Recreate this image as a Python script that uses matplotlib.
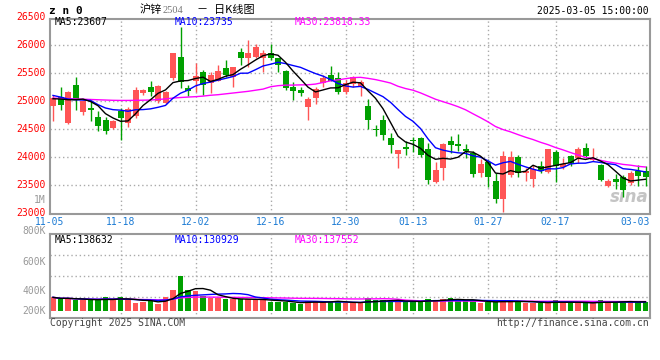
#!/usr/bin/env python3
# Sina daily K-line chart for SHFE zinc 2504 (沪锌2504)

import numpy as np
import pandas as pd
import matplotlib
matplotlib.use('Agg')
import matplotlib.pyplot as plt

W, H = 660, 360
MONO = 'DejaVu Sans Mono'
CJK = ['Noto Sans CJK SC', 'DejaVu Sans']
RED = '#ff5555'
GREEN = '#00a000'
GRID = '#aaaaaa'
FRAME = '#999999'

# trading-day index of each date label
tick_idx = [0, 9, 19, 29, 39, 48, 58, 67, 77]
tick_labels = ['11-05', '11-18', '12-02', '12-16', '12-30', '01-13', '01-27', '02-17', '03-03']

opens = [24910, 25078, 24617, 25296, 24805, 24883, 24716, 24675, 24528, 24823,
         24617, 24734, 25149, 25266, 25000, 24972, 25415, 25798, 25248, 25373,
         25532, 25337, 25367, 25603, 25443, 25887, 25780, 25798, 25769, 25858,
         25769, 25544, 25266, 25207, 24894, 25060, 25337, 25473, 25415, 25160,
         25314, 25278, 24923, 24504, 24675, 24351, 24061, 24192, 24303, 24351,
         24156, 23564, 23807, 24286, 24244, 24144, 24085, 23718, 23918, 23582,
         23257, 23683, 24014, 23725, 23612, 23843, 23736, 24096, 23831, 24025,
         23996, 24173, 23955, 23860, 23488, 23612, 23660, 23553, 23754, 23754]
highs = [25110, 25266, 25190, 25443, 25020, 25030, 24823, 24730, 24670, 24883,
         24900, 25260, 25230, 25367, 25300, 25190, 25870, 26320, 25300, 25681,
         25560, 25530, 25651, 25739, 25620, 25946, 26094, 26030, 25917, 26018,
         25780, 25560, 25355, 25260, 25080, 25250, 25470, 25633, 25532, 25380,
         25460, 25380, 25042, 24587, 24764, 24440, 24130, 24291, 24369, 24360,
         24263, 23918, 24263, 24380, 24427, 24232, 24110, 23966, 23960, 23730,
         24114, 24114, 24040, 23813, 23872, 23931, 24160, 24132, 23996, 24040,
         24180, 24263, 24173, 23880, 23610, 23700, 23680, 23760, 23860, 23840]
lows = [24650, 24853, 24590, 24853, 24750, 24645, 24468, 24420, 24500, 24320,
        24540, 24700, 25120, 25101, 24970, 24950, 25390, 25238, 25100, 25177,
        25119, 25150, 25360, 25440, 25255, 25651, 25620, 25780, 25532, 25740,
        25532, 25200, 25030, 25090, 24675, 24960, 25250, 25360, 25130, 25140,
        25250, 25089, 24516, 24380, 24309, 24073, 23807, 24037, 24096, 24010,
        23523, 23540, 23600, 24085, 24114, 23997, 23660, 23660, 23475, 23186,
        23021, 23660, 23660, 23582, 23465, 23725, 23720, 23564, 23802, 23843,
        23908, 23996, 23930, 23580, 23470, 23435, 23287, 23500, 23488, 23488]
closes = [25060, 24942, 25177, 25030, 25000, 24841, 24569, 24468, 24645, 24706,
          24871, 25207, 25207, 25160, 25278, 25177, 25858, 25355, 25195, 25461,
          25296, 25473, 25544, 25473, 25610, 25769, 25869, 25975, 25858, 25769,
          25651, 25238, 25195, 25149, 25042, 25225, 25415, 25373, 25160, 25326,
          25443, 25355, 24663, 24492, 24398, 24220, 24126, 24144, 24286, 24037,
          23600, 23771, 24232, 24215, 24202, 24108, 23713, 23878, 23653, 23257,
          24025, 24014, 23718, 23754, 23795, 23754, 24144, 23843, 23890, 23908,
          24156, 24025, 23996, 23600, 23582, 23570, 23423, 23725, 23677, 23660]
volume_k = [205, 175, 190, 165, 165, 165, 165, 205, 165, 205,
            165, 125, 140, 150, 105, 215, 315, 530, 315, 300,
            225, 190, 190, 175, 175, 175, 175, 175, 165, 130,
            140, 140, 115, 100, 155, 155, 130, 140, 150, 115,
            115, 115, 190, 165, 165, 140, 140, 140, 150, 140,
            180, 150, 180, 195, 165, 150, 150, 125, 130, 130,
            165, 150, 140, 125, 125, 115, 125, 165, 125, 125,
            115, 115, 135, 160, 125, 125, 140, 155, 135, 135]

# moving-average values at the left edge (history before 11-05 not shown)
ma5_head = [25048, 25043, 25030, 25030]
ma10_head = [25107, 25078, 25043, 25030, 25024, 25018, 24942, 24883, 24853]
ma30_head = [25060, 25055, 25050, 25045, 25040, 25035, 25030, 25025, 25020, 25018,
             25018, 25020, 25022, 25025, 25035, 25045, 25060, 25070, 25078, 25085,
             25095, 25110, 25120, 25135, 25150, 25165, 25180, 25200, 25220]

price_legend = [('MA5:23607', 'black'), ('MA10:23735', '#0000ff'), ('MA30:23818.33', '#ff00ff')]
vol_legend = [('MA5:138632', 'black'), ('MA10:130929', '#0000ff'), ('MA30:137552', '#ff00ff')]
price_labels = [26500, 26000, 25500, 25000, 24500, 24000, 23500, 23000]
vol_labels = ['800K', '600K', '400K', '200K']


def moving_avg(values, n, head):
    ma = pd.Series(values, dtype=float).rolling(n).mean().to_numpy()
    ma[:len(head)] = head
    return ma


def px(x, y):
    return x / W, 1 - y / H


def main():
    o = np.array(opens, float)
    h = np.array(highs, float)
    l = np.array(lows, float)
    c = np.array(closes, float)
    v = np.array(volume_k, float) * 1000
    x = np.arange(len(c))
    up = c >= o
    colors = np.where(up, RED, GREEN)

    fig = plt.figure(figsize=(W / 100, H / 100), dpi=100)
    ax = fig.add_axes([50 / W, 1 - 213.5 / H, 599.7 / W, 195 / H])
    vax = fig.add_axes([50 / W, 1 - 318.3 / H, 599.7 / W, 84 / H])

    xlim = (-0.4, 79.56)

    # price panel
    ax.set_xlim(*xlim)
    ax.set_ylim(23000, 26480)
    for yv in price_labels[1:-1]:
        ax.axhline(yv, color=GRID, lw=1, ls=(0, (1, 2)), zorder=0)
    for i in tick_idx[1:-1]:
        ax.axvline(i, color=GRID, lw=1, ls=(0, (1, 2)), zorder=0)

    ax.vlines(x, l, h, colors=colors, lw=1, zorder=2)
    body = np.maximum(np.abs(c - o), 18)
    ax.bar(x, body, bottom=np.minimum(o, c), width=0.8, color=colors, lw=0, zorder=3)

    ax.plot(x, moving_avg(c, 30, ma30_head), color='#ff00ff', lw=1, zorder=4)
    ax.plot(x, moving_avg(c, 10, ma10_head), color='#0000ff', lw=1, zorder=4)
    ax.plot(x, moving_avg(c, 5, ma5_head), color='black', lw=1, zorder=4)

    for (txt, col), xp in zip(price_legend, [55, 175, 295]):
        ax.text((xp - 50) / 599.7, 0.982, txt, transform=ax.transAxes, color=col,
                fontsize=7, family=MONO, va='center', ha='left')

    for yv in price_labels:
        ax.text(-0.007, yv, str(yv), transform=ax.get_yaxis_transform(), color='#ff0000',
                fontsize=7, family=MONO, va='center', ha='right', clip_on=False)
    ax.text(-0.007, 0.069, '1M', transform=ax.transAxes, color='#999999',
            fontsize=7, family=MONO, va='center', ha='right')

    for k, (i, lab) in enumerate(zip(tick_idx, tick_labels)):
        if k == 0:
            xt, ha, tr = 0.0, 'center', ax.transAxes
        elif k == len(tick_idx) - 1:
            xt, ha, tr = 1.0, 'right', ax.transAxes
        else:
            xt, ha, tr = (i - xlim[0]) / (xlim[1] - xlim[0]), 'center', ax.transAxes
        ax.text(xt, -0.044, lab, transform=tr, color='#1a7ad4', fontsize=7,
                family=MONO, va='center', ha=ha)

    ax.text(0.998, 0.085, 'sina', transform=ax.transAxes, color='#c4c4c4',
            fontsize=12, fontweight='bold', style='italic', va='center', ha='right', zorder=1)

    # volume panel
    vax.set_xlim(*xlim)
    vax.set_ylim(-109500, 1150500)
    for f in [0.25, 0.5, 0.75]:
        vax.axhline(-109500 + f * 1260000, color=GRID, lw=1, ls=(0, (1, 2)), zorder=0)
    for i in tick_idx[1:-1]:
        vax.axvline(i, color=GRID, lw=1, ls=(0, (1, 2)), zorder=0)
    vax.bar(x, v, width=0.75, color=colors, lw=0, zorder=2)
    vs = pd.Series(v)
    vax.plot(x, vs.rolling(30, min_periods=1).mean(), color='#ff00ff', lw=1, zorder=3)
    vax.plot(x, vs.rolling(10, min_periods=1).mean(), color='#0000ff', lw=1, zorder=3)
    vax.plot(x, vs.rolling(5, min_periods=1).mean(), color='black', lw=1, zorder=3)

    for (txt, col), xp in zip(vol_legend, [55, 175, 295]):
        vax.text((xp - 50) / 599.7, 0.932, txt, transform=vax.transAxes, color=col,
                 fontsize=7, family=MONO, va='center', ha='left')
    for lab, fy in zip(vol_labels, [1.039, 0.674, 0.329, 0.09]):
        vax.text(-0.007, fy, lab, transform=vax.transAxes, color='#999999',
                 fontsize=7, family=MONO, va='center', ha='right', clip_on=False)

    for a in (ax, vax):
        a.set_xticks([])
        a.set_yticks([])
        for s in a.spines.values():
            s.set_color(FRAME)
            s.set_linewidth(1.5)

    # header and footer
    fig.text(*px(49, 11.5), 'z n 0', fontsize=8, fontweight='bold', family=MONO,
             va='center', ha='left')
    fig.text(*px(140, 10), '沪锌', fontsize=8, family=CJK, va='center', ha='left')
    fig.text(*px(163, 10.5), '2504', fontsize=7.5, family='Liberation Serif',
             color='#777777', va='center', ha='left')
    fig.text(*px(196, 10), '－', fontsize=8, family=CJK, va='center', ha='left')
    fig.text(*px(214, 10), '日K线图', fontsize=8, family=CJK, va='center', ha='left')
    fig.text(*px(649, 11.5), '2025-03-05 15:00:00', fontsize=7, family=MONO,
             va='center', ha='right')
    fig.text(*px(50, 323.5), 'Copyright 2025 SINA.COM', fontsize=7, family=MONO,
             color='#444444', va='center', ha='left')
    fig.text(*px(649, 323.5), 'http://finance.sina.com.cn', fontsize=7, family=MONO,
             color='#444444', va='center', ha='right')

    fig.savefig('out.png', dpi=100)


if __name__ == '__main__':
    main()
